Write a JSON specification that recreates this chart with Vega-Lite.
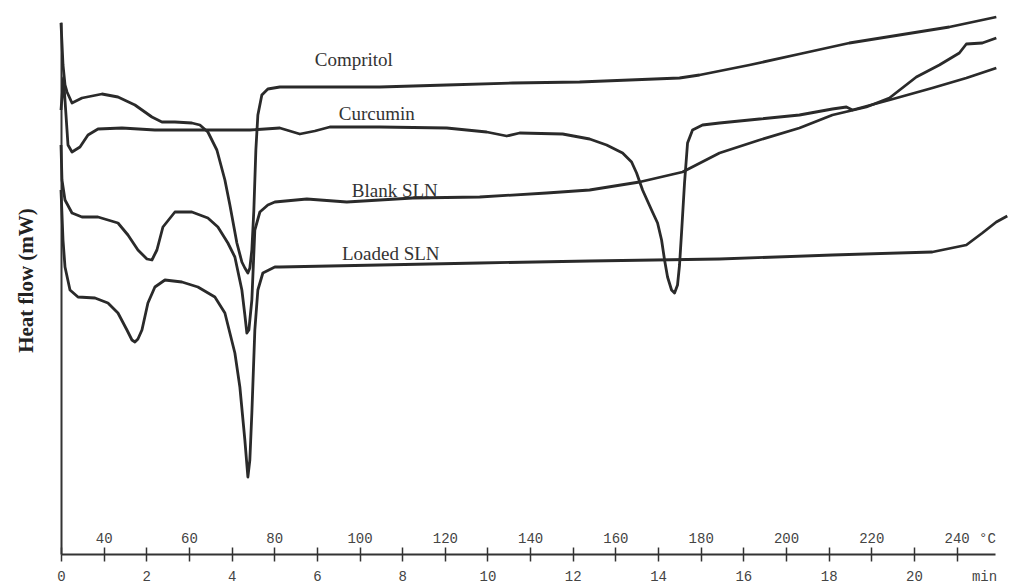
{
  "$schema": "https://vega.github.io/schema/vega-lite/v6.json",
  "width": 934,
  "height": 532,
  "autosize": {"type": "none"},
  "padding": {"left": 61, "top": 22, "right": 15, "bottom": 32},
  "background": "white",
  "config": {"view": {"stroke": null}},
  "datasets": {
    "curves": [
      {"s": "Compritol", "t": 0, "hf": 531},
      {"s": "Compritol", "t": 0.047, "hf": 489},
      {"s": "Compritol", "t": 0.094, "hf": 469},
      {"s": "Compritol", "t": 0.141, "hf": 462},
      {"s": "Compritol", "t": 0.258, "hf": 451},
      {"s": "Compritol", "t": 0.492, "hf": 456},
      {"s": "Compritol", "t": 0.961, "hf": 460},
      {"s": "Compritol", "t": 1.336, "hf": 457},
      {"s": "Compritol", "t": 1.734, "hf": 449},
      {"s": "Compritol", "t": 2.132, "hf": 437},
      {"s": "Compritol", "t": 2.366, "hf": 432},
      {"s": "Compritol", "t": 2.671, "hf": 432},
      {"s": "Compritol", "t": 3.069, "hf": 431},
      {"s": "Compritol", "t": 3.257, "hf": 429},
      {"s": "Compritol", "t": 3.444, "hf": 422},
      {"s": "Compritol", "t": 3.655, "hf": 404},
      {"s": "Compritol", "t": 3.843, "hf": 374},
      {"s": "Compritol", "t": 3.96, "hf": 349},
      {"s": "Compritol", "t": 4.124, "hf": 311},
      {"s": "Compritol", "t": 4.241, "hf": 292},
      {"s": "Compritol", "t": 4.311, "hf": 286},
      {"s": "Compritol", "t": 4.382, "hf": 281},
      {"s": "Compritol", "t": 4.428, "hf": 286},
      {"s": "Compritol", "t": 4.475, "hf": 304},
      {"s": "Compritol", "t": 4.522, "hf": 344},
      {"s": "Compritol", "t": 4.569, "hf": 404},
      {"s": "Compritol", "t": 4.616, "hf": 439},
      {"s": "Compritol", "t": 4.709, "hf": 459},
      {"s": "Compritol", "t": 4.85, "hf": 465},
      {"s": "Compritol", "t": 5.131, "hf": 467},
      {"s": "Compritol", "t": 5.904, "hf": 467},
      {"s": "Compritol", "t": 7.474, "hf": 467},
      {"s": "Compritol", "t": 9.044, "hf": 469},
      {"s": "Compritol", "t": 10.59, "hf": 471},
      {"s": "Compritol", "t": 12.16, "hf": 472},
      {"s": "Compritol", "t": 14.503, "hf": 476},
      {"s": "Compritol", "t": 14.972, "hf": 479},
      {"s": "Compritol", "t": 16.144, "hf": 489},
      {"s": "Compritol", "t": 17.315, "hf": 500},
      {"s": "Compritol", "t": 18.486, "hf": 511},
      {"s": "Compritol", "t": 19.658, "hf": 519},
      {"s": "Compritol", "t": 20.829, "hf": 527},
      {"s": "Compritol", "t": 21.931, "hf": 537},

      {"s": "Curcumin", "t": 0, "hf": 444},
      {"s": "Curcumin", "t": 0.059, "hf": 476},
      {"s": "Curcumin", "t": 0.117, "hf": 439},
      {"s": "Curcumin", "t": 0.164, "hf": 409},
      {"s": "Curcumin", "t": 0.258, "hf": 402},
      {"s": "Curcumin", "t": 0.445, "hf": 407},
      {"s": "Curcumin", "t": 0.633, "hf": 419},
      {"s": "Curcumin", "t": 0.867, "hf": 425},
      {"s": "Curcumin", "t": 1.429, "hf": 426},
      {"s": "Curcumin", "t": 2.202, "hf": 424},
      {"s": "Curcumin", "t": 3.257, "hf": 424},
      {"s": "Curcumin", "t": 4.428, "hf": 424},
      {"s": "Curcumin", "t": 5.131, "hf": 426},
      {"s": "Curcumin", "t": 5.366, "hf": 423},
      {"s": "Curcumin", "t": 5.6, "hf": 420},
      {"s": "Curcumin", "t": 5.951, "hf": 423},
      {"s": "Curcumin", "t": 6.303, "hf": 427},
      {"s": "Curcumin", "t": 7.474, "hf": 427},
      {"s": "Curcumin", "t": 9.044, "hf": 426},
      {"s": "Curcumin", "t": 9.981, "hf": 422},
      {"s": "Curcumin", "t": 10.45, "hf": 418},
      {"s": "Curcumin", "t": 10.754, "hf": 421},
      {"s": "Curcumin", "t": 11.762, "hf": 420},
      {"s": "Curcumin", "t": 12.395, "hf": 415},
      {"s": "Curcumin", "t": 12.793, "hf": 409},
      {"s": "Curcumin", "t": 13.168, "hf": 401},
      {"s": "Curcumin", "t": 13.379, "hf": 392},
      {"s": "Curcumin", "t": 13.496, "hf": 381},
      {"s": "Curcumin", "t": 13.636, "hf": 364},
      {"s": "Curcumin", "t": 13.847, "hf": 344},
      {"s": "Curcumin", "t": 13.988, "hf": 331},
      {"s": "Curcumin", "t": 14.082, "hf": 314},
      {"s": "Curcumin", "t": 14.152, "hf": 294},
      {"s": "Curcumin", "t": 14.222, "hf": 277},
      {"s": "Curcumin", "t": 14.316, "hf": 264},
      {"s": "Curcumin", "t": 14.386, "hf": 261},
      {"s": "Curcumin", "t": 14.456, "hf": 269},
      {"s": "Curcumin", "t": 14.503, "hf": 289},
      {"s": "Curcumin", "t": 14.55, "hf": 321},
      {"s": "Curcumin", "t": 14.62, "hf": 371},
      {"s": "Curcumin", "t": 14.691, "hf": 411},
      {"s": "Curcumin", "t": 14.808, "hf": 424},
      {"s": "Curcumin", "t": 15.042, "hf": 429},
      {"s": "Curcumin", "t": 15.441, "hf": 431},
      {"s": "Curcumin", "t": 16.378, "hf": 435},
      {"s": "Curcumin", "t": 17.315, "hf": 439},
      {"s": "Curcumin", "t": 18.088, "hf": 445},
      {"s": "Curcumin", "t": 18.416, "hf": 447},
      {"s": "Curcumin", "t": 18.557, "hf": 444},
      {"s": "Curcumin", "t": 19.424, "hf": 454},
      {"s": "Curcumin", "t": 20.431, "hf": 466},
      {"s": "Curcumin", "t": 21.228, "hf": 476},
      {"s": "Curcumin", "t": 21.931, "hf": 486},

      {"s": "Blank SLN", "t": 0, "hf": 409},
      {"s": "Blank SLN", "t": 0.023, "hf": 374},
      {"s": "Blank SLN", "t": 0.094, "hf": 354},
      {"s": "Blank SLN", "t": 0.258, "hf": 341},
      {"s": "Blank SLN", "t": 0.492, "hf": 337},
      {"s": "Blank SLN", "t": 0.867, "hf": 337},
      {"s": "Blank SLN", "t": 1.336, "hf": 331},
      {"s": "Blank SLN", "t": 1.57, "hf": 319},
      {"s": "Blank SLN", "t": 1.804, "hf": 304},
      {"s": "Blank SLN", "t": 2.015, "hf": 295},
      {"s": "Blank SLN", "t": 2.132, "hf": 294},
      {"s": "Blank SLN", "t": 2.249, "hf": 304},
      {"s": "Blank SLN", "t": 2.39, "hf": 327},
      {"s": "Blank SLN", "t": 2.671, "hf": 342},
      {"s": "Blank SLN", "t": 3.069, "hf": 342},
      {"s": "Blank SLN", "t": 3.444, "hf": 336},
      {"s": "Blank SLN", "t": 3.679, "hf": 327},
      {"s": "Blank SLN", "t": 3.913, "hf": 311},
      {"s": "Blank SLN", "t": 4.077, "hf": 297},
      {"s": "Blank SLN", "t": 4.241, "hf": 264},
      {"s": "Blank SLN", "t": 4.311, "hf": 239},
      {"s": "Blank SLN", "t": 4.358, "hf": 221},
      {"s": "Blank SLN", "t": 4.405, "hf": 224},
      {"s": "Blank SLN", "t": 4.475, "hf": 254},
      {"s": "Blank SLN", "t": 4.545, "hf": 324},
      {"s": "Blank SLN", "t": 4.663, "hf": 342},
      {"s": "Blank SLN", "t": 4.85, "hf": 349},
      {"s": "Blank SLN", "t": 5.014, "hf": 352},
      {"s": "Blank SLN", "t": 5.764, "hf": 355},
      {"s": "Blank SLN", "t": 6.701, "hf": 352},
      {"s": "Blank SLN", "t": 8.248, "hf": 356},
      {"s": "Blank SLN", "t": 9.817, "hf": 357},
      {"s": "Blank SLN", "t": 11.387, "hf": 361},
      {"s": "Blank SLN", "t": 12.395, "hf": 364},
      {"s": "Blank SLN", "t": 13.566, "hf": 372},
      {"s": "Blank SLN", "t": 14.574, "hf": 382},
      {"s": "Blank SLN", "t": 15.441, "hf": 401},
      {"s": "Blank SLN", "t": 16.378, "hf": 414},
      {"s": "Blank SLN", "t": 17.315, "hf": 426},
      {"s": "Blank SLN", "t": 18.088, "hf": 439},
      {"s": "Blank SLN", "t": 18.885, "hf": 447},
      {"s": "Blank SLN", "t": 19.424, "hf": 456},
      {"s": "Blank SLN", "t": 20.056, "hf": 477},
      {"s": "Blank SLN", "t": 20.595, "hf": 489},
      {"s": "Blank SLN", "t": 21.064, "hf": 501},
      {"s": "Blank SLN", "t": 21.228, "hf": 510},
      {"s": "Blank SLN", "t": 21.603, "hf": 511},
      {"s": "Blank SLN", "t": 21.931, "hf": 516},

      {"s": "Loaded SLN", "t": 0, "hf": 364},
      {"s": "Loaded SLN", "t": 0.047, "hf": 314},
      {"s": "Loaded SLN", "t": 0.094, "hf": 287},
      {"s": "Loaded SLN", "t": 0.211, "hf": 264},
      {"s": "Loaded SLN", "t": 0.398, "hf": 257},
      {"s": "Loaded SLN", "t": 0.797, "hf": 256},
      {"s": "Loaded SLN", "t": 1.101, "hf": 251},
      {"s": "Loaded SLN", "t": 1.336, "hf": 241},
      {"s": "Loaded SLN", "t": 1.546, "hf": 224},
      {"s": "Loaded SLN", "t": 1.664, "hf": 214},
      {"s": "Loaded SLN", "t": 1.734, "hf": 212},
      {"s": "Loaded SLN", "t": 1.804, "hf": 215},
      {"s": "Loaded SLN", "t": 1.898, "hf": 224},
      {"s": "Loaded SLN", "t": 2.038, "hf": 251},
      {"s": "Loaded SLN", "t": 2.202, "hf": 267},
      {"s": "Loaded SLN", "t": 2.437, "hf": 274},
      {"s": "Loaded SLN", "t": 2.835, "hf": 272},
      {"s": "Loaded SLN", "t": 3.21, "hf": 267},
      {"s": "Loaded SLN", "t": 3.608, "hf": 257},
      {"s": "Loaded SLN", "t": 3.843, "hf": 241},
      {"s": "Loaded SLN", "t": 4.077, "hf": 201},
      {"s": "Loaded SLN", "t": 4.194, "hf": 167},
      {"s": "Loaded SLN", "t": 4.311, "hf": 114},
      {"s": "Loaded SLN", "t": 4.382, "hf": 77},
      {"s": "Loaded SLN", "t": 4.428, "hf": 94},
      {"s": "Loaded SLN", "t": 4.475, "hf": 141},
      {"s": "Loaded SLN", "t": 4.545, "hf": 224},
      {"s": "Loaded SLN", "t": 4.616, "hf": 264},
      {"s": "Loaded SLN", "t": 4.733, "hf": 281},
      {"s": "Loaded SLN", "t": 5.014, "hf": 287},
      {"s": "Loaded SLN", "t": 5.131, "hf": 287},
      {"s": "Loaded SLN", "t": 7.474, "hf": 289},
      {"s": "Loaded SLN", "t": 9.817, "hf": 291},
      {"s": "Loaded SLN", "t": 12.395, "hf": 293},
      {"s": "Loaded SLN", "t": 15.441, "hf": 295},
      {"s": "Loaded SLN", "t": 18.088, "hf": 299},
      {"s": "Loaded SLN", "t": 20.431, "hf": 302},
      {"s": "Loaded SLN", "t": 21.228, "hf": 309},
      {"s": "Loaded SLN", "t": 21.603, "hf": 321},
      {"s": "Loaded SLN", "t": 21.931, "hf": 332},
      {"s": "Loaded SLN", "t": 22.188, "hf": 338}
    ],
    "labels": [
      {"label": "Compritol", "t": 6.865, "hf": 488},
      {"label": "Curcumin", "t": 7.404, "hf": 434},
      {"label": "Blank SLN", "t": 7.826, "hf": 357},
      {"label": "Loaded SLN", "t": 7.732, "hf": 294}
    ]
  },
  "layer": [
    {
      "data": {"name": "curves"},
      "mark": {"type": "line", "color": "#2a2a2a", "strokeWidth": 2.8, "strokeJoin": "round"},
      "encoding": {
        "x": {
          "field": "t", "type": "quantitative",
          "scale": {"domain": [0, 21.9], "nice": false, "zero": false},
          "axis": {
            "orient": "bottom",
            "values": [0,1,2,3,4,5,6,7,8,9,10,11,12,13,14,15,16,17,18,19,20,21],
            "labelExpr": "datum.value % 2 === 0 ? datum.label : ''",
            "tickSize": 7, "tickColor": "#333", "tickWidth": 1.5,
            "domainColor": "#333", "domainWidth": 2,
            "grid": false, "labelFlush": false, "labelOverlap": false,
            "labelFont": "Liberation Mono", "labelFontSize": 14, "labelColor": "#444", "labelPadding": 8,
            "title": "min", "titleFont": "Liberation Mono", "titleFontSize": 14, "titleFontWeight": "normal",
            "titleColor": "#444", "titleX": 923, "titleY": 15, "titleBaseline": "top", "titleAlign": "center"
          }
        },
        "y": {
          "field": "hf", "type": "quantitative",
          "scale": {"domain": [0, 532], "nice": false, "zero": false},
          "axis": {
            "title": "Heat flow (mW)", "labels": false, "ticks": false, "grid": false,
            "domainColor": "#333", "domainWidth": 2,
            "titleFont": "Liberation Serif", "titleFontSize": 21, "titleFontWeight": "bold",
            "titleColor": "#222", "titlePadding": 25, "titleY": 258
          }
        },
        "detail": {"field": "s", "type": "nominal"}
      }
    },
    {
      "data": {"name": "labels"},
      "mark": {"type": "text", "font": "Liberation Serif", "fontSize": 19, "color": "#333", "align": "center", "baseline": "alphabetic"},
      "encoding": {
        "x": {
          "field": "t", "type": "quantitative",
          "scale": {"domain": [0, 21.9], "nice": false, "zero": false},
          "axis": {
            "orient": "bottom",
            "values": [0,1,2,3,4,5,6,7,8,9,10,11,12,13,14,15,16,17,18,19,20,21],
            "labelExpr": "datum.value % 2 === 1 ? '' + (30 + 10 * datum.value) : ''",
            "tickSize": -7, "tickColor": "#333", "tickWidth": 1.5,
            "domain": false, "grid": false, "labelFlush": false, "labelOverlap": false,
            "labelFont": "Liberation Mono", "labelFontSize": 14, "labelColor": "#444",
            "labelBaseline": "alphabetic", "labelPadding": -5,
            "title": "°C", "titleFont": "Liberation Mono", "titleFontSize": 14, "titleFontWeight": "normal",
            "titleColor": "#444", "titleX": 926, "titleY": -12, "titleBaseline": "alphabetic", "titleAlign": "center"
          }
        },
        "y": {
          "field": "hf", "type": "quantitative",
          "scale": {"domain": [0, 532], "nice": false, "zero": false},
          "axis": {
            "title": "Heat flow (mW)", "labels": false, "ticks": false, "grid": false,
            "domainColor": "#333", "domainWidth": 2,
            "titleFont": "Liberation Serif", "titleFontSize": 21, "titleFontWeight": "bold",
            "titleColor": "#222", "titlePadding": 25, "titleY": 258
          }
        },
        "text": {"field": "label", "type": "nominal"}
      }
    }
  ],
  "resolve": {"axis": {"x": "independent"}}
}
